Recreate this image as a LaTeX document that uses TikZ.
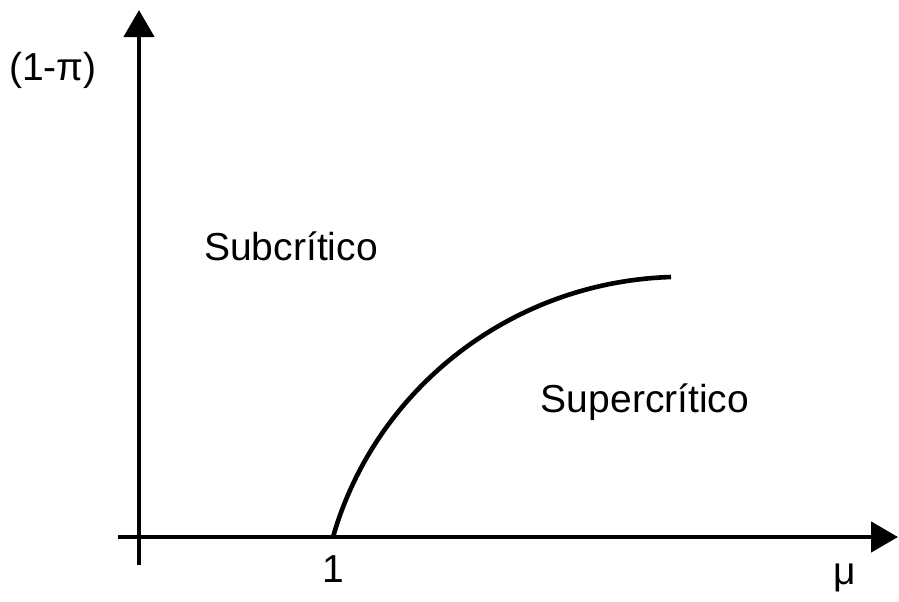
\documentclass[tikz,border=0pt]{standalone}
\usepackage{fontspec}
\setmainfont{Liberation Sans}
\usetikzlibrary{arrows.meta}
\begin{document}
\begin{tikzpicture}[x=0.5pt,y=-0.5pt,
  axis/.style={line width=2.3pt,-{Triangle[length=13.5pt,width=15pt]}},
  curveline/.style={line width=2.3pt},
  lbl/.style={inner sep=0pt,font=\fontsize{19.5pt}{23pt}\selectfont}]
\useasboundingbox (0,0) rectangle (899,601);
\coordinate (ybot) at (139,565);
\coordinate (ytop) at (139,10);
\coordinate (xleft) at (118,537);
\coordinate (xright) at (898,537);
\coordinate (c0) at (333,537);
\coordinate (c1) at (671,277);
\draw[axis] (ybot) -- (ytop);
\draw[axis] (xleft) -- (xright);
\draw[curveline] (c0) .. controls (375,390) and (510,282) .. (c1);
\node[lbl] (ylab) at (53,70) {(1-π)};
\node[lbl] (sub) at (291,246) {Subcrítico};
\node[lbl] (sup) at (645,402) {Supercrítico};
\node[lbl] (one) at (333,569) {1};
\node[lbl] (mu) at (845,578) {μ};
\end{tikzpicture}
\end{document}
